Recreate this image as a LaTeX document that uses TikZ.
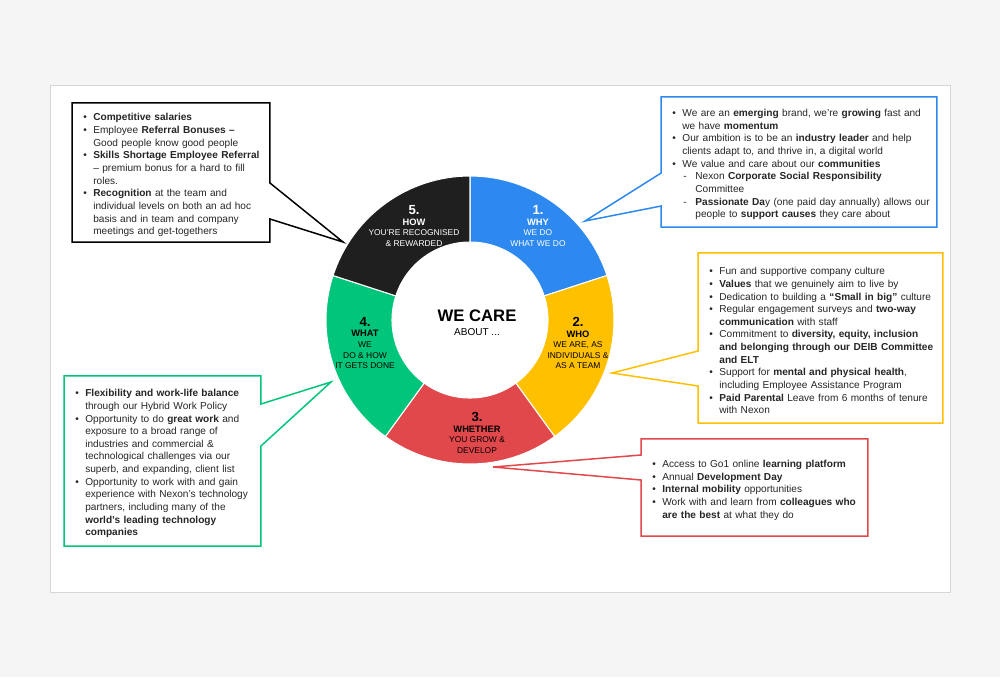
\documentclass[tikz,border=0pt]{standalone}
\usepackage{fontspec}
\setmainfont{Liberation Sans}
\usepackage{tikz}

\definecolor{segblue}{HTML}{2D89EF}
\definecolor{segyellow}{HTML}{FFC000}
\definecolor{segred}{HTML}{E1484C}
\definecolor{seggreen}{HTML}{00C57A}
\definecolor{segblack}{HTML}{1F1F1F}
\definecolor{pagegrey}{HTML}{F5F5F5}
\definecolor{framegrey}{HTML}{D6D6D6}

% bullet and dash items for the text boxes
\newcommand{\bpt}[1]{\par\noindent\hangindent=11.9pt\hangafter=1\hbox to 11.9pt{\hskip6.2pt\textbullet\hfil}#1}
\newcommand{\dpt}[1]{\par\noindent\hangindent=19.3pt\hangafter=1\hbox to 19.3pt{\hskip12.5pt-\hfil}#1}
\newcommand{\segnum}[1]{{\fontsize{7.5}{8}\selectfont\bfseries #1}}
\newcommand{\seghead}[1]{{\fontsize{5.3}{6}\selectfont\bfseries #1}}

\begin{document}
\begin{tikzpicture}[
  x=0.02cm, y=-0.02cm,
  sector/.style={draw=white, line width=0.6pt},
  seglabel/.style={align=center, inner sep=0pt, font=\fontsize{4.8}{6}\selectfont},
  listbox/.style={align=left, inner xsep=0pt, inner ysep=0pt, text=black!85, font=\fontsize{5.75}{7.2}\selectfont},
  callout/.style={line width=0.85pt}
]
\useasboundingbox (0,0) rectangle (1000,677);
\fill[pagegrey] (0,0) rectangle (1000,677);
\filldraw[fill=white, draw=framegrey, line width=0.5pt] (50,85) rectangle (950,592);

% ring
\begin{scope}[shift={(470,320)}, x=0.02cm, y=0.02cm]
  \fill[segblue, sector] (18:78) -- (18:144) arc[start angle=18, end angle=90, radius=144] -- (90:78) arc[start angle=90, end angle=18, radius=78] -- cycle;
  \fill[segyellow, sector] (-54:78) -- (-54:144) arc[start angle=-54, end angle=18, radius=144] -- (18:78) arc[start angle=18, end angle=-54, radius=78] -- cycle;
  \fill[segred, sector] (-126:78) -- (-126:144) arc[start angle=-126, end angle=-54, radius=144] -- (-54:78) arc[start angle=-54, end angle=-126, radius=78] -- cycle;
  \fill[seggreen, sector] (162:78) -- (162:144) arc[start angle=162, end angle=234, radius=144] -- (234:78) arc[start angle=234, end angle=162, radius=78] -- cycle;
  \fill[segblack, sector] (90:78) -- (90:144) arc[start angle=90, end angle=162, radius=144] -- (162:78) arc[start angle=162, end angle=90, radius=78] -- cycle;
\end{scope}

\node[inner sep=0pt] (care) at (477,316) {\fontsize{9.5}{10}\selectfont\bfseries WE CARE};
\node[inner sep=0pt] (about) at (477,332) {\fontsize{5.7}{6}\selectfont ABOUT ...};

\node[seglabel, text=white] (whylbl) at (538,226) {\segnum{1.}\\\seghead{WHY}\\WE DO\\WHAT WE DO};
\node[seglabel] (wholbl) at (578,343) {\segnum{2.}\\\seghead{WHO}\\WE ARE, AS\\INDIVIDUALS \&\\AS A TEAM};
\node[seglabel] (growlbl) at (477,433) {\segnum{3.}\\\seghead{WHETHER}\\YOU GROW \&\\DEVELOP};
\node[seglabel] (whatlbl) at (365,343) {\segnum{4.}\\\seghead{WHAT}\\WE\\DO \& HOW\\IT GETS DONE};
\node[seglabel, text=white] (recoglbl) at (414,226) {\segnum{5.}\\\seghead{HOW}\\YOU’RE RECOGNISED\\\& REWARDED};

% text boxes
\node[listbox, text width=112.25pt, minimum height=78.8pt] (recog) at (171,172.5) {%
\bpt{\textbf{Competitive salaries}}%
\bpt{Employee \textbf{Referral Bonuses –}\newline Good people know good people}%
\bpt{\textbf{Skills Shortage Employee Referral}\newline – premium bonus for a hard to fill\newline roles.}%
\bpt{\textbf{Recognition} at the team and\newline individual levels on both an ad hoc\newline basis and in team and company\newline meetings and get-togethers}\par};

\node[listbox, text width=156.5pt, minimum height=73.7pt] (why) at (799,162) {%
\bpt{We are an \textbf{emerging} brand, we’re \textbf{growing} fast and\newline we have \textbf{momentum}}%
\bpt{Our ambition is to be an \textbf{industry leader} and help\newline clients adapt to, and thrive in, a digital world}%
\bpt{We value and care about our \textbf{communities}}%
\dpt{Nexon \textbf{Corporate Social Responsibility}\newline Committee}%
\dpt{\textbf{Passionate Da}y (one paid day annually) allows our\newline people to \textbf{support causes} they care about}\par};

\node[listbox, text width=138.9pt, minimum height=96.4pt] (who) at (820.5,338) {%
\bpt{Fun and supportive company culture}%
\bpt{\textbf{Values} that we genuinely aim to live by}%
\bpt{Dedication to building a \textbf{“Small in big”} culture}%
\bpt{Regular engagement surveys and \textbf{two-way}\newline \textbf{communication} with staff}%
\bpt{Commitment to \textbf{diversity, equity, inclusion}\newline \textbf{and belonging through our DEIB Committee}\newline \textbf{and ELT}}%
\bpt{Support for \textbf{mental and physical health},\newline including Employee Assistance Program}%
\bpt{\textbf{Paid Parental} Leave from 6 months of tenure\newline with Nexon}\par};

\node[listbox, text width=128.7pt, minimum height=55pt] (grow) at (754.5,487.5) {%
\bpt{Access to Go1 online \textbf{learning platform}}%
\bpt{Annual \textbf{Development Day}}%
\bpt{\textbf{Internal mobility} opportunities}%
\bpt{Work with and learn from \textbf{colleagues who}\newline \textbf{are the best} at what they do}\par};

\node[listbox, text width=111.7pt, minimum height=96.4pt] (what) at (162.5,461) {%
\bpt{\textbf{Flexibility and work-life balance}\newline through our Hybrid Work Policy}%
\bpt{Opportunity to do \textbf{great work} and\newline exposure to a broad range of\newline industries and commercial \&\newline technological challenges via our\newline superb, and expanding, client list}%
\bpt{Opportunity to work with and gain\newline experience with Nexon’s technology\newline partners, including many of the\newline \textbf{world’s leading technology}\newline \textbf{companies}}\par};

% callout outlines
\coordinate (recogtip) at (343,242);
\coordinate (whytip) at (585,221);
\coordinate (whotip) at (612,373);
\coordinate (growtip) at (493,467);
\coordinate (whattip) at (331,382);

\draw[callout, draw=black] (recog.north west) -- (recog.north east) -- (recog.east |- 0,183) -- (recogtip) -- (recog.east |- 0,219) -- (recog.south east) -- (recog.south west) -- cycle;
\draw[callout, draw=segblue] (why.north west) -- (why.north east) -- (why.south east) -- (why.south west) -- (why.west |- 0,206) -- (whytip) -- (why.west |- 0,173) -- cycle;
\draw[callout, draw=segyellow] (who.north west) -- (who.north east) -- (who.south east) -- (who.south west) -- (who.west |- 0,386) -- (whotip) -- (who.west |- 0,351) -- cycle;
\draw[callout, draw=segred] (grow.north west) -- (grow.north east) -- (grow.south east) -- (grow.south west) -- (grow.west |- 0,480) -- (growtip) -- (grow.west |- 0,455) -- cycle;
\draw[callout, draw=seggreen] (what.north west) -- (what.north east) -- (what.east |- 0,404) -- (whattip) -- (what.east |- 0,446) -- (what.south east) -- (what.south west) -- cycle;
\end{tikzpicture}
\end{document}
